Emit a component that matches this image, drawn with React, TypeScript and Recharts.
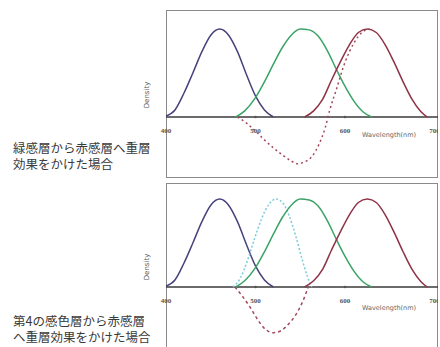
import React from "react"
import { LineChart, Line, XAxis, YAxis, ReferenceLine, ReferenceDot } from "recharts"

// wavelength ticks (nm)
const TICKS = [400, 500, 600, 700]
const MINOR = [500, 600]

// sensitivity curves (nm, relative density)
const BLUE_NM = [400, 410, 420, 430, 440, 450, 460, 470, 480, 490, 500, 510, 520]
const BLUE_D = [0.01, 0.08, 0.27, 0.5, 0.74, 0.93, 1.0, 0.93, 0.74, 0.48, 0.24, 0.08, 0]

const GREEN_NM = [478, 488, 500, 510, 520, 530, 540, 550, 560, 570, 580, 590, 600, 610, 620, 630]
const GREEN_D = [0, 0.07, 0.22, 0.4, 0.6, 0.79, 0.93, 1.0, 0.99, 0.92, 0.76, 0.55, 0.35, 0.18, 0.06, 0]

const RED_NM = [555, 565, 575, 585, 595, 605, 615, 625, 635, 645, 655, 665, 675, 685, 692]
const RED_D = [0, 0.07, 0.2, 0.42, 0.63, 0.82, 0.96, 1.0, 0.96, 0.82, 0.62, 0.4, 0.2, 0.06, 0]

// top: red layer after interlayer effect from green layer
const RED_IIE1_NM = [480, 490, 500, 510, 520, 530, 540, 547, 555, 563, 571, 578, 583, 590, 600, 610, 620, 628]
const RED_IIE1_D = [0, -0.07, -0.16, -0.26, -0.35, -0.43, -0.5, -0.53, -0.51, -0.45, -0.31, -0.12, 0.08, 0.3, 0.62, 0.84, 0.97, 1.0]

// bottom: fourth layer and red layer after its interlayer effect
const CYAN_NM = [475, 483, 491, 499, 507, 515, 523, 531, 538, 545, 552, 558, 563]
const CYAN_D = [0, 0.1, 0.3, 0.55, 0.78, 0.94, 1.0, 0.95, 0.8, 0.58, 0.32, 0.12, 0]

const RED_IIE2_NM = [477, 485, 494, 503, 512, 520, 528, 537, 546, 553, 559]
const RED_IIE2_D = [0, -0.1, -0.23, -0.38, -0.49, -0.52, -0.5, -0.42, -0.3, -0.16, 0]

const pts = (nm: number[], d: number[]) => nm.map((x, i) => ({ x, y: d[i] }))

const BLUE = pts(BLUE_NM, BLUE_D)
const GREEN = pts(GREEN_NM, GREEN_D)
const RED = pts(RED_NM, RED_D)
const RED_IIE1 = pts(RED_IIE1_NM, RED_IIE1_D)
const CYAN = pts(CYAN_NM, CYAN_D)
const RED_IIE2 = pts(RED_IIE2_NM, RED_IIE2_D)

type Series = { data: { x: number; y: number }[]; color: string; dash?: string }

const TOP_SERIES: Series[] = [
  { data: BLUE, color: "#46437a" },
  { data: GREEN, color: "#3aa366" },
  { data: RED, color: "#8e3245" },
  { data: RED_IIE1, color: "#a24a5c", dash: "2 3" },
]

const BOTTOM_SERIES: Series[] = [
  { data: BLUE, color: "#46437a" },
  { data: CYAN, color: "#7ccbdb", dash: "2 2" },
  { data: GREEN, color: "#3aa366" },
  { data: RED, color: "#8e3245" },
  { data: RED_IIE2, color: "#a24a5c", dash: "3 3" },
]

const JP = "'Noto Sans CJK JP', 'Noto Sans', sans-serif"

function Panel({
  top,
  height,
  yDomain,
  series,
  lines,
}: {
  top: number
  height: number
  yDomain: [number, number]
  series: Series[]
  lines: string[]
}) {
  return (
    <>
      <div
        style={{
          position: "absolute",
          left: 166,
          top,
          width: 272,
          height,
          boxSizing: "border-box",
          border: "1.5px solid #8a8a8a",
        }}
      />
      <div style={{ position: "absolute", left: 130, top }}>
        <LineChart width={308} height={height} margin={{ top: 0, right: 0, bottom: 0, left: 36 }}>
          <XAxis dataKey="x" type="number" domain={[400, 704]} hide />
          <YAxis type="number" domain={yDomain} hide />
          <ReferenceLine y={0} stroke="#3a3a3a" strokeWidth={1.6} />
          {MINOR.map((t) => (
            <ReferenceDot key={`m${t}`} x={t} y={0} r={1.3} fill="#555" stroke="none" />
          ))}
          {TICKS.map((t) => (
            <ReferenceDot
              key={t}
              x={t}
              y={0}
              r={0}
              stroke="none"
              label={{ value: String(t), position: "bottom", offset: 11, fontSize: 7, fill: "#555", fontWeight: 700 }}
            />
          ))}
          {series.map((s, i) => (
            <Line
              key={i}
              data={s.data}
              dataKey="y"
              type="monotone"
              stroke={s.color}
              strokeWidth={1.5}
              strokeDasharray={s.dash}
              dot={false}
              isAnimationActive={false}
            />
          ))}
        </LineChart>
      </div>
      <div
        style={{
          position: "absolute",
          left: 147,
          top: top + height * 0.5 + 1,
          transform: "translate(-50%, -50%) rotate(-90deg)",
          fontSize: 7,
          color: "#555",
          fontFamily: "'DejaVu Sans', sans-serif",
          whiteSpace: "nowrap",
        }}
      >
        Density
      </div>
      <div
        style={{
          position: "absolute",
          left: 362,
          top: top + 121,
          fontSize: 6.5,
          color: "#666",
          fontFamily: "'DejaVu Sans', sans-serif",
          whiteSpace: "nowrap",
        }}
      >
        Wavelength(nm)
      </div>
      {lines.map((l, i) => (
        <div
          key={l}
          style={{
            position: "absolute",
            left: 13,
            top: top + 130 + i * 16,
            fontSize: 12.5,
            lineHeight: "15px",
            height: 15,
            color: "#3a3a3a",
            fontFamily: JP,
            whiteSpace: "nowrap",
          }}
        >
          {l}
        </div>
      ))}
    </>
  )
}

export default function App() {
  return (
    <div style={{ position: "absolute", left: 0, top: 0, width: 440, height: 347, background: "#fff", overflow: "hidden" }}>
      <Panel
        top={10}
        height={168}
        yDomain={[-0.693, 1.216]}
        series={TOP_SERIES}
        lines={["緑感層から赤感層へ重層", "効果をかけた場合"]}
      />
      <Panel
        top={183}
        height={166}
        yDomain={[-0.705, 1.182]}
        series={BOTTOM_SERIES}
        lines={["第4の感色層から赤感層", "へ重層効果をかけた場合"]}
      />
    </div>
  )
}
